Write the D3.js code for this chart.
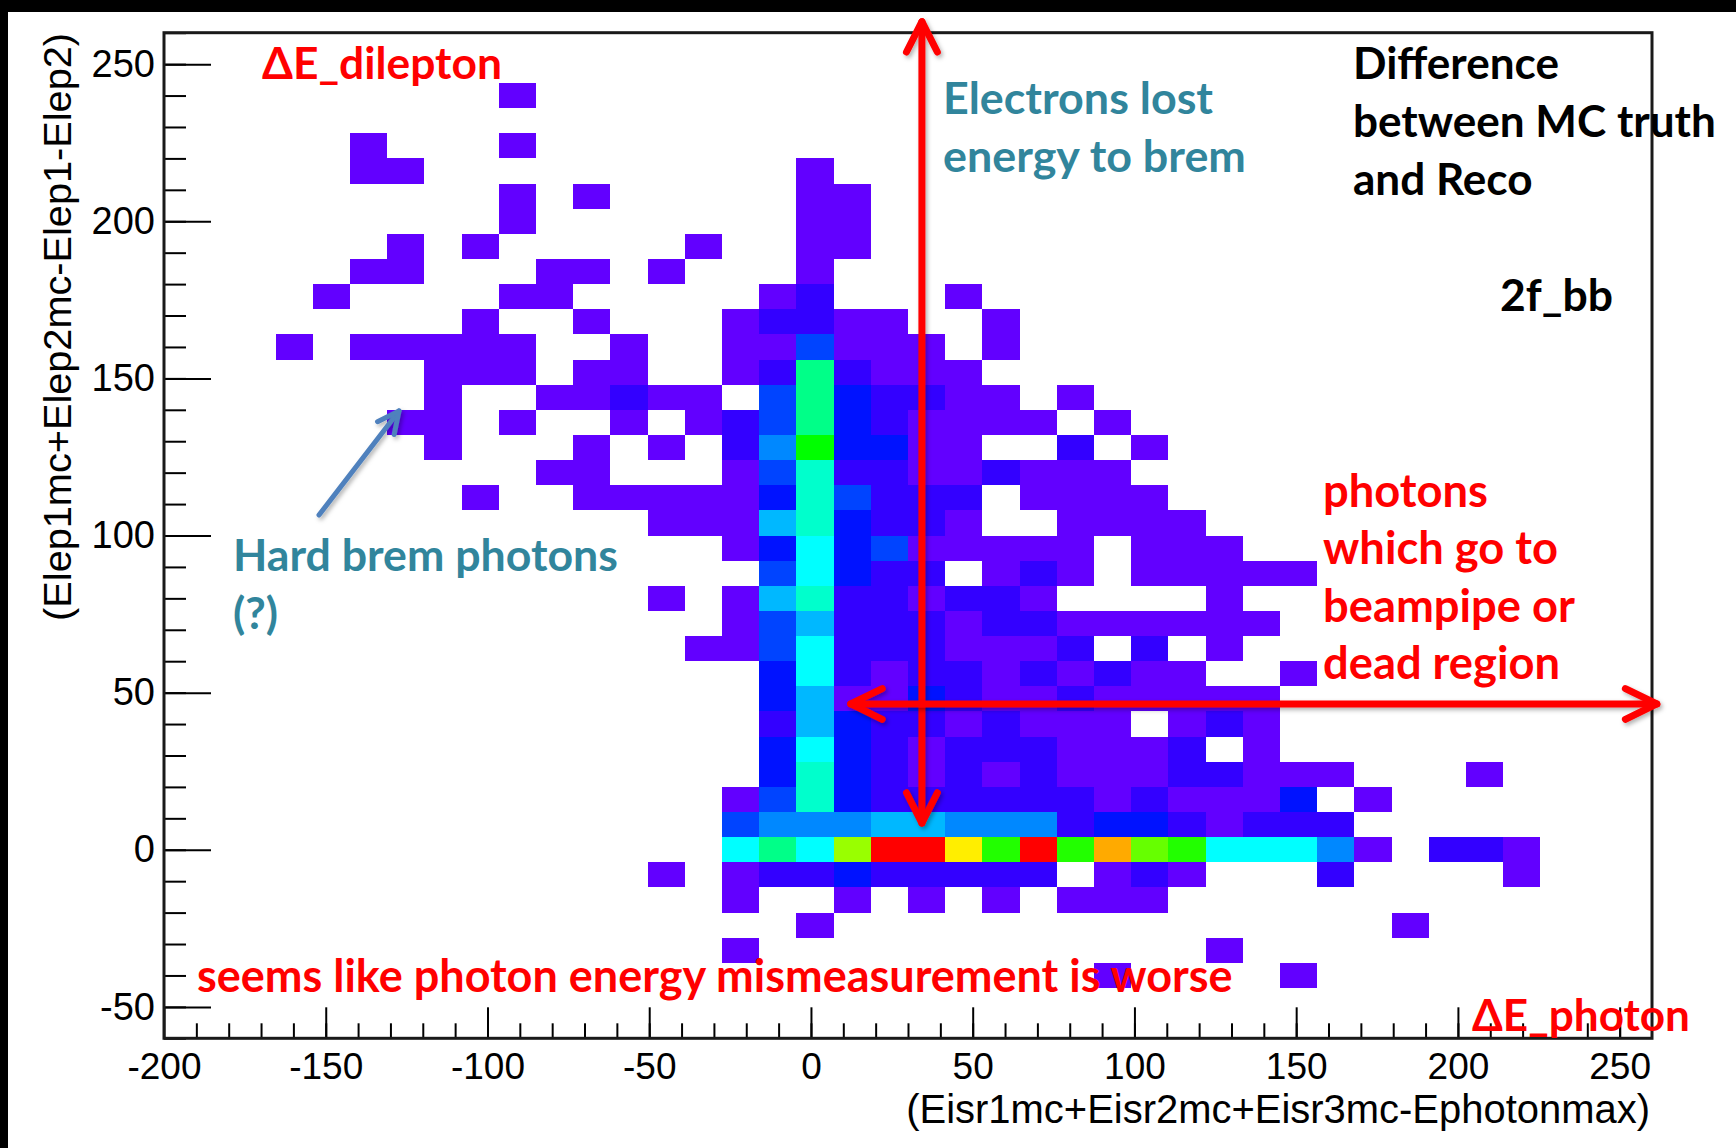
<!DOCTYPE html>
<html>
<head>
<meta charset="utf-8">
<script src="https://cdn.jsdelivr.net/npm/d3@7"></script>
<style>
  html, body { margin: 0; padding: 0; background: #fff; }
  svg { display: block; }
</style>
</head>
<body>
<svg id="chart" width="1736" height="1148"></svg>
<script>
// ---- histogram binning (TH2: 40 x 40 bins) ----
const xBinning = { low: -200, width: 11.5, n: 40 };
const yBinning = { low: -60, width: 8, n: 40 };

// Bin contents, one run per entry: [y bin, first x bin, counts of consecutive x bins]
// '.' = empty bin, 1-9 as is, a=10 ... g=16
const binRuns = [
  [37, 9, "1"],
  [35, 5, "1...1"],
  [34, 5, "11"], [34, 17, "1"],
  [33, 9, "1.1"], [33, 17, "11"],
  [32, 9, "1"], [32, 17, "11"],
  [31, 6, "1.1"], [31, 14, "1..11"],
  [30, 5, "11...11.1...1"],
  [29, 4, "1....11.....12...1"],
  [28, 8, "1..1...12211..1"],
  [27, 3, "1.11111..1..114111.1"],
  [26, 7, "111.11..1292111"],
  [25, 7, "1..11211.4932211.1"],
  [24, 6, "11.1..1.1249321111.1"],
  [23, 7, "1...1.1.25a3311..2.1"],
  [22, 10, "11...14822112111"],
  [21, 8, "1..11111384222.1111"],
  [20, 13, "111683221..1111"],
  [19, 15, "1373411111.111"],
  [18, 16, "47322.121.11111"],
  [17, 13, "1.168221221....1"],
  [16, 15, "146222122111111"],
  [15, 14, "11472221112.2.1"],
  [14, 16, "372122121211..1"],
  [13, 16, "36113211211111"],
  [12, 16, "2632212111.121"],
  [11, 16, "373212221112.1"],
  [10, 16, "3832121211122111...1"],
  [9, 15, "1483222222121113.1"],
  [8, 15, "45556655523321222"],
  [7, 15, "797dggebgbfcb77751.221"],
  [6, 13, "1.122322222.121...2....1"],
  [5, 15, "1..1.1.1.111"],
  [4, 17, "1"], [4, 33, "1"],
  [3, 15, "1"], [3, 28, "1"],
  [2, 25, "1"], [2, 30, "1"]
];

// colour palette, one entry per count level (1 ... 16)
const paletteColors = [
  "#6200ff", "#3300ff", "#0012ff", "#0044ff", "#0088ff", "#00b8ff",
  "#00ffff", "#00ffcc", "#00ff88", "#00ff00", "#22ff00", "#66ff00",
  "#99ff00", "#ffee00", "#ffaa00", "#ff0000"
];

const xTickValues = [-200, -150, -100, -50, 0, 50, 100, 150, 200, 250];
const yTickValues = [-50, 0, 50, 100, 150, 200, 250];
const xRange = [-200, 260];
const yRange = [-60, 260];

const xTitle = "(Eisr1mc+Eisr2mc+Eisr3mc-Ephotonmax)";
const yTitle = "(Elep1mc+Elep2mc-Elep1-Elep2)";

// ---- canvas ----
const W = 1736, H = 1148;
const svg = d3.select("#chart");
svg.append("rect").attr("width", W).attr("height", H).attr("fill", "#fff");
// dark slide margin
svg.append("rect").attr("x", 0).attr("y", 0).attr("width", W).attr("height", 12).attr("fill", "#000");
svg.append("rect").attr("x", 0).attr("y", 0).attr("width", 8).attr("height", H).attr("fill", "#000");

const defs = svg.append("defs");
const shadow = defs.append("filter").attr("id", "shadow")
  .attr("filterUnits", "userSpaceOnUse")
  .attr("x", 0).attr("y", 0).attr("width", W).attr("height", H);
shadow.append("feDropShadow").attr("dx", 2).attr("dy", 2.5)
  .attr("stdDeviation", 2).attr("flood-color", "#000").attr("flood-opacity", 0.3);

const plot = { left: 164, right: 1652, top: 32.7, bottom: 1038.3 };
const x = d3.scaleLinear().domain(xRange).range([plot.left, plot.right]);
const y = d3.scaleLinear().domain(yRange).range([plot.bottom, plot.top]);

// ---- histogram cells ----
const cells = [];
binRuns.forEach(([yb, xb0, digits]) => {
  [...digits].forEach((ch, k) => {
    if (ch === ".") return;
    cells.push({ xb: xb0 + k, yb: yb, count: parseInt(ch, 36) });
  });
});
const color = d3.scaleQuantize()
  .domain([0.5, paletteColors.length + 0.5])
  .range(paletteColors);

const xEdge = i => x(xBinning.low + i * xBinning.width);
const yEdge = j => y(yBinning.low + j * yBinning.width);

svg.append("g").attr("class", "cells")
  .selectAll("rect").data(cells).join("rect")
  .attr("x", d => xEdge(d.xb))
  .attr("y", d => yEdge(d.yb + 1))
  .attr("width", d => xEdge(d.xb + 1) - xEdge(d.xb))
  .attr("height", d => yEdge(d.yb) - yEdge(d.yb + 1))
  .attr("fill", d => color(d.count))
  .attr("shape-rendering", "crispEdges");

// ---- axes (ticks point into the frame) ----
const axisFont = "'Liberation Sans', Arial, Helvetica, sans-serif";
const fmt = d => String(d);

function styleAxis(g, fontSize) {
  g.select(".domain").remove();
  g.selectAll(".tick line").attr("stroke", "#000").attr("stroke-width", 2);
  g.selectAll(".tick text").attr("font-family", axisFont).attr("font-size", fontSize).attr("fill", "#000");
}

const xMinor = d3.range(-190, 260, 10);
const yMinor = d3.range(-60, 261, 10);

const gxMinor = svg.append("g").attr("transform", `translate(0,${plot.bottom})`)
  .call(d3.axisBottom(x).tickValues(xMinor).tickSize(-15).tickSizeOuter(0).tickFormat(""));
styleAxis(gxMinor, 37);
const gx = svg.append("g").attr("transform", `translate(0,${plot.bottom})`)
  .call(d3.axisBottom(x).tickValues(xTickValues).tickSize(-31).tickSizeOuter(0).tickPadding(14).tickFormat(fmt));
styleAxis(gx, 37);

const gyMinor = svg.append("g").attr("transform", `translate(${plot.left},0)`)
  .call(d3.axisLeft(y).tickValues(yMinor).tickSize(-22).tickSizeOuter(0).tickFormat(""));
styleAxis(gyMinor, 38);
const gy = svg.append("g").attr("transform", `translate(${plot.left},0)`)
  .call(d3.axisLeft(y).tickValues(yTickValues).tickSize(-47).tickSizeOuter(0).tickPadding(9).tickFormat(fmt));
styleAxis(gy, 38);

// frame
svg.append("rect")
  .attr("x", plot.left).attr("y", plot.top)
  .attr("width", plot.right - plot.left).attr("height", plot.bottom - plot.top)
  .attr("fill", "none").attr("stroke", "#1a1a1a").attr("stroke-width", 3);

// axis titles, sized to their printed length
function fitWidth(sel, target) {
  const w = sel.node().getComputedTextLength();
  const fs = parseFloat(sel.attr("font-size"));
  sel.attr("font-size", fs * target / w);
}
const xt = svg.append("text")
  .attr("x", 1650).attr("y", 1123)
  .attr("text-anchor", "end")
  .attr("font-family", axisFont).attr("font-size", 38).attr("fill", "#000")
  .text(xTitle);
fitWidth(xt, 744);

const yt = svg.append("text")
  .attr("transform", "translate(71,33) rotate(-90)")
  .attr("text-anchor", "end")
  .attr("font-family", axisFont).attr("font-size", 38).attr("fill", "#000")
  .text(yTitle);
fitWidth(yt, 588);

// ---- annotation arrows ----
function arrowHead(g, tipX, tipY, dirX, dirY, arm, angleDeg, stroke, width) {
  const len = Math.hypot(dirX, dirY);
  const ux = dirX / len, uy = dirY / len;
  const a = angleDeg * Math.PI / 180;
  const pts = [-a, a].map(t => {
    const bx = -ux, by = -uy;
    return [tipX + arm * (bx * Math.cos(t) - by * Math.sin(t)),
            tipY + arm * (bx * Math.sin(t) + by * Math.cos(t))];
  });
  g.append("path")
    .attr("d", `M${pts[0][0]},${pts[0][1]} L${tipX},${tipY} L${pts[1][0]},${pts[1][1]}`)
    .attr("fill", "none").attr("stroke", stroke).attr("stroke-width", width)
    .attr("stroke-linecap", "round").attr("stroke-linejoin", "round");
}
function arrow(x1, y1, x2, y2, stroke, width, both, arm, ang) {
  const g = svg.append("g").attr("filter", "url(#shadow)");
  g.append("line").attr("x1", x1).attr("y1", y1).attr("x2", x2).attr("y2", y2)
    .attr("stroke", stroke).attr("stroke-width", width).attr("stroke-linecap", "round");
  arrowHead(g, x2, y2, x2 - x1, y2 - y1, arm, ang, stroke, width);
  if (both) arrowHead(g, x1, y1, x1 - x2, y1 - y2, arm, ang, stroke, width);
}

// vertical: energy lost by the electrons; horizontal: photon energy not measured
arrow(x(34.3), y(8.5), x(34.3), y(263.5), "#ff0000", 7, true, 34, 27);
arrow(x(12.3), y(46.4), x(261.5), y(46.4), "#ff0000", 7, true, 35, 26);
// hard brem pointer
arrow(319, 515, 399, 411, "#4f81bd", 5, false, 24, 26);

// ---- annotation text ----
const noteFont = "Lato, 'Open Sans', 'Noto Sans', sans-serif";
const notes = [
  { lines: ["\u0394E_dilepton"], x: 262, ys: [79], ref: 0, width: 240, fill: "#ff0000" },
  { lines: ["Electrons lost", "energy to brem"], x: 943, ys: [114, 172], ref: 1, width: 303, fill: "#31859c" },
  { lines: ["Difference", "between MC truth", "and Reco"], x: 1353, ys: [79, 137, 195], ref: 1, width: 363, fill: "#000" },
  { lines: ["2f_bb"], x: 1500, ys: [311], ref: 0, width: 113, fill: "#000" },
  { lines: ["Hard brem photons", "(?)"], x: 233, ys: [571, 629], ref: 0, width: 385, fill: "#31859c" },
  { lines: ["photons", "which go to", "beampipe or", "dead region"], x: 1323, ys: [507, 564, 622, 679], ref: 2, width: 252, fill: "#ff0000" },
  { lines: ["seems like photon energy mismeasurement is worse"], x: 197, ys: [992], ref: 0, width: 1036, fill: "#ff0000" },
  { lines: ["\u0394E_photon"], x: 1472, ys: [1031], ref: 0, width: 218, fill: "#ff0000" }
];
notes.forEach(n => {
  const g = svg.append("g");
  const texts = n.lines.map((t, i) => g.append("text")
    .attr("x", n.x).attr("y", n.ys[i])
    .attr("font-family", noteFont).attr("font-weight", 700)
    .attr("font-size", 44).attr("fill", n.fill)
    .text(t));
  const w = texts[n.ref].node().getComputedTextLength();
  const fs = 44 * n.width / w;
  texts.forEach(t => t.attr("font-size", fs));
});
</script>
</body>
</html>
